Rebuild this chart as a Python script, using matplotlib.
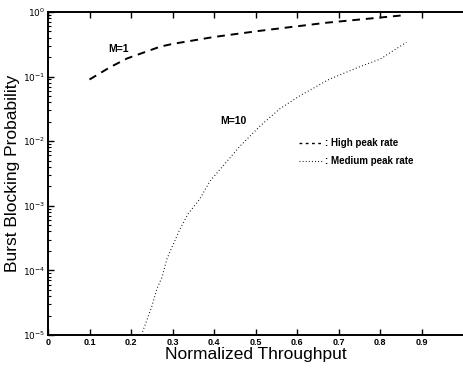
import numpy as np
import matplotlib
matplotlib.use('Agg')
import matplotlib.pyplot as plt
from matplotlib.ticker import LogLocator, FixedLocator, NullFormatter

plt.rcParams['font.family'] = ['Liberation Sans', 'DejaVu Sans']

# M=1, high peak rate (dashed)
m1_x = [0.10, 0.15, 0.19, 0.27, 0.30, 0.40, 0.51, 0.67, 0.85]
m1_y = [0.09, 0.14, 0.19, 0.29, 0.32, 0.41, 0.51, 0.68, 0.88]

# M=10, medium peak rate (dotted)
m10_x = [0.225, 0.25, 0.262, 0.275, 0.286, 0.30, 0.317, 0.337, 0.365, 0.39,
         0.462, 0.51, 0.558, 0.606, 0.678, 0.75, 0.80, 0.863]
m10_log = [-5.0, -4.56, -4.29, -4.10, -3.83, -3.62, -3.37, -3.13, -2.90, -2.62,
           -2.08, -1.77, -1.50, -1.30, -1.04, -0.85, -0.73, -0.47]
m10_y = [10 ** v for v in m10_log]

x_ticks = [0, 0.1, 0.2, 0.3, 0.4, 0.5, 0.6, 0.7, 0.8, 0.9]
x_labels = ['0', '0.1', '0.2', '0.3', '0.4', '0.5', '0.6', '0.7', '0.8', '0.9']
y_ticks = [1e-5, 1e-4, 1e-3, 1e-2, 1e-1, 1e0]
y_labels = [r'$10^{-5}$', r'$10^{-4}$', r'$10^{-3}$', r'$10^{-2}$', r'$10^{-1}$', r'$10^{0}$']

fig = plt.figure(figsize=(4.64, 3.73), dpi=100)
ax = fig.add_axes([0.1034, 0.102, 0.895, 0.866])

ax.plot(m1_x, m1_y, color='black', lw=1.4, dashes=(4, 3))
ax.plot(m10_x, m10_y, color='black', lw=0.8, dashes=(0.8, 2.2))

ax.set_yscale('log')
ax.set_xlim(0, 1)
ax.set_ylim(1e-5, 1)

ax.xaxis.set_major_locator(FixedLocator(x_ticks))
ax.set_xticklabels(x_labels, fontsize=6.5, fontweight='bold')
ax.set_yticks(y_ticks)
ax.set_yticklabels(y_labels, fontsize=6.5)
ax.yaxis.set_minor_locator(LogLocator(base=10, subs=np.arange(2, 10)))
ax.yaxis.set_minor_formatter(NullFormatter())
ax.tick_params(axis='both', which='both', direction='in', top=True, right=False)
ax.tick_params(axis='both', which='major', length=4, width=1, pad=2)
ax.tick_params(axis='y', which='minor', length=2, width=0.8)

for s in ['left', 'bottom', 'top']:
    ax.spines[s].set_linewidth(1.4)
ax.spines['right'].set_color('#bbbbbb')
ax.spines['right'].set_linewidth(0.6)

ax.set_xlabel('Normalized Throughput', fontsize=12.5, labelpad=0)
ax.set_ylabel('Burst Blocking Probability', fontsize=12.5, labelpad=2)

ax.text(0.17, 0.27, 'M=1', fontsize=7.5, fontweight='bold', ha='center', va='center')
ax.text(0.447, 10 ** -1.69, 'M=10', fontsize=7.5, fontweight='bold', ha='center', va='center')

# legend drawn as text with line samples
ax.plot([0.605, 0.665], [10 ** -2.03] * 2, color='black', lw=1.0, dashes=(2, 2.5))
ax.plot([0.605, 0.665], [10 ** -2.30] * 2, color='black', lw=0.8, dashes=(0.8, 2.0))
ax.text(0.668, 10 ** -2.03, ': High peak rate', fontsize=7, fontweight='bold', va='center')
ax.text(0.668, 10 ** -2.30, ': Medium peak rate', fontsize=7, fontweight='bold', va='center')

fig.savefig('out.png', dpi=100)
